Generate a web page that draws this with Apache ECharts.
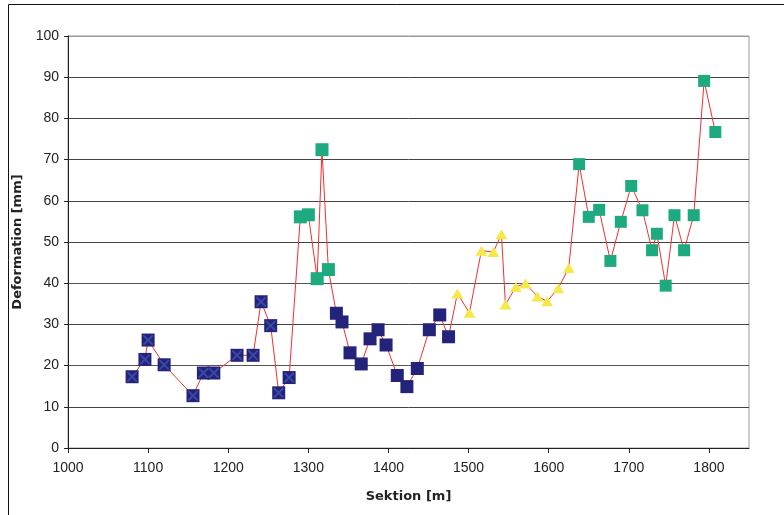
<!DOCTYPE html>
<html>
<head>
<meta charset="utf-8">
<script src="https://cdn.jsdelivr.net/npm/echarts@6/dist/echarts.min.js"></script>
<style>
  html, body { margin: 0; padding: 0; background: #fff; }
  #chart { width: 784px; height: 515px; }
</style>
</head>
<body>
<div id="chart"></div>
<script>
// Deformation along the section, grouped by marker style
const crossedX = [1080, 1096, 1100, 1120, 1156, 1169, 1182, 1211, 1231, 1241, 1253, 1263, 1276];
const crossedY = [17.3, 21.5, 26.2, 20.2, 12.7, 18.2, 18.2, 22.5, 22.5, 35.5, 29.7, 13.4, 17.1];

const greenAX = [1290, 1300, 1311, 1317, 1325];
const greenAY = [56.1, 56.6, 41.1, 72.4, 43.3];

const navyX = [1335, 1342, 1352, 1366, 1377, 1387, 1397, 1411, 1423, 1436, 1451, 1464, 1475];
const navyY = [32.7, 30.6, 23.1, 20.4, 26.5, 28.7, 25.0, 17.6, 14.9, 19.3, 28.7, 32.3, 27.0];

const yellowX = [1486, 1501, 1516, 1531, 1541, 1546, 1559, 1571, 1586, 1598, 1612, 1625];
const yellowY = [37.5, 32.8, 47.9, 47.6, 51.9, 34.8, 39.1, 39.9, 36.8, 35.6, 38.8, 43.7];

const greenBX = [1638, 1650, 1663, 1677, 1690, 1703, 1717, 1729, 1735, 1746, 1757, 1769, 1781, 1794, 1808];
const greenBY = [68.9, 56.1, 57.8, 45.4, 54.9, 63.6, 57.7, 48.0, 52.0, 39.4, 56.5, 48.0, 56.5, 89.1, 76.7];

const xTicks = [1000, 1100, 1200, 1300, 1400, 1500, 1600, 1700, 1800];
const yTicks = [0, 10, 20, 30, 40, 50, 60, 70, 80, 90, 100];

const xName = 'Sektion [m]';
const yName = 'Deformation [mm]';

function pairs(xs, ys) {
  return xs.map((x, i) => [x, ys[i]]);
}

const allPoints = [].concat(
  pairs(crossedX, crossedY),
  pairs(greenAX, greenAY),
  pairs(navyX, navyY),
  pairs(yellowX, yellowY),
  pairs(greenBX, greenBY)
);

const NAVY = '#23237a';
const GREEN = '#1eaa80';
const YELLOW = '#f7e84a';
const RED = '#f03030';
const CROSS = 'path://M0,0 L1.4,0 L10,8.6 L10,10 L8.6,10 L0,1.4 Z M8.6,0 L10,0 L10,1.4 L1.4,10 L0,10 L0,8.6 Z';

const tickFont = { fontFamily: 'Liberation Sans, Arial, sans-serif', fontSize: 14, color: '#222' };
const nameFont = { fontFamily: 'DejaVu Sans, Verdana, sans-serif', fontSize: 13, fontWeight: 'bold', color: '#222' };

const chart = echarts.init(document.getElementById('chart'), null, { renderer: 'canvas' });
chart.setOption({
  animation: false,
  backgroundColor: '#fff',
  graphic: [{
    type: 'rect',
    shape: { x: 8.5, y: 4.5, width: 900, height: 600 },
    style: { fill: 'none', stroke: '#111', lineWidth: 1 },
    silent: true,
    z: 0
  }],
  grid: {
    left: 68, right: 35, top: 36, bottom: 67,
    show: true,
    borderColor: '#9a9a9a',
    borderWidth: 1,
    backgroundColor: 'transparent'
  },
  xAxis: {
    type: 'value',
    min: 1000, max: 1850, interval: 100,
    name: xName,
    nameLocation: 'middle',
    nameGap: 42,
    nameTextStyle: nameFont,
    axisLine: { show: true, lineStyle: { color: '#222', width: 1 } },
    axisTick: { show: true, length: 5, lineStyle: { color: '#222' }, customValues: xTicks },
    axisLabel: Object.assign({ margin: 13, customValues: xTicks, formatter: v => String(v) }, tickFont),
    splitLine: { show: false }
  },
  yAxis: {
    type: 'value',
    min: 0, max: 100, interval: 10,
    name: yName,
    nameLocation: 'middle',
    nameGap: 44,
    nameRotate: 90,
    nameTextStyle: nameFont,
    axisLine: { show: true, lineStyle: { color: '#222', width: 1 } },
    axisTick: { show: true, length: 4, lineStyle: { color: '#222' }, customValues: yTicks },
    axisLabel: Object.assign({ margin: 9, customValues: yTicks, formatter: v => String(v) }, tickFont),
    splitLine: {
      show: true,
      lineStyle: {
        width: 1,
        color: ['#444', '#444', '#555', '#444', '#555', '#444', '#444', '#444', '#444', '#444', '#9a9a9a']
      }
    }
  },
  series: [
    {
      type: 'line',
      data: allPoints,
      showSymbol: false,
      symbol: 'none',
      lineStyle: { color: RED, width: 1 },
      z: 2
    },
    {
      type: 'scatter',
      data: pairs(crossedX, crossedY),
      symbol: 'rect',
      symbolSize: 13,
      itemStyle: { color: NAVY, opacity: 1 },
      z: 3
    },
    {
      type: 'scatter',
      data: pairs(crossedX, crossedY),
      symbol: CROSS,
      symbolSize: 10,
      itemStyle: { color: '#3a48a6', opacity: 1 },
      z: 4
    },
    {
      type: 'scatter',
      data: pairs(greenAX, greenAY),
      symbol: 'rect',
      symbolSize: 13,
      itemStyle: { color: GREEN, opacity: 1 },
      z: 3
    },
    {
      type: 'scatter',
      data: pairs(navyX, navyY),
      symbol: 'rect',
      symbolSize: 13,
      itemStyle: { color: NAVY, opacity: 1 },
      z: 3
    },
    {
      type: 'scatter',
      data: pairs(yellowX, yellowY),
      symbol: 'triangle',
      symbolSize: [12, 10],
      itemStyle: { color: YELLOW, opacity: 1 },
      z: 3
    },
    {
      type: 'scatter',
      data: pairs(greenBX, greenBY),
      symbol: 'rect',
      symbolSize: 12,
      itemStyle: { color: GREEN, opacity: 1 },
      z: 3
    }
  ]
});
</script>
</body>
</html>
